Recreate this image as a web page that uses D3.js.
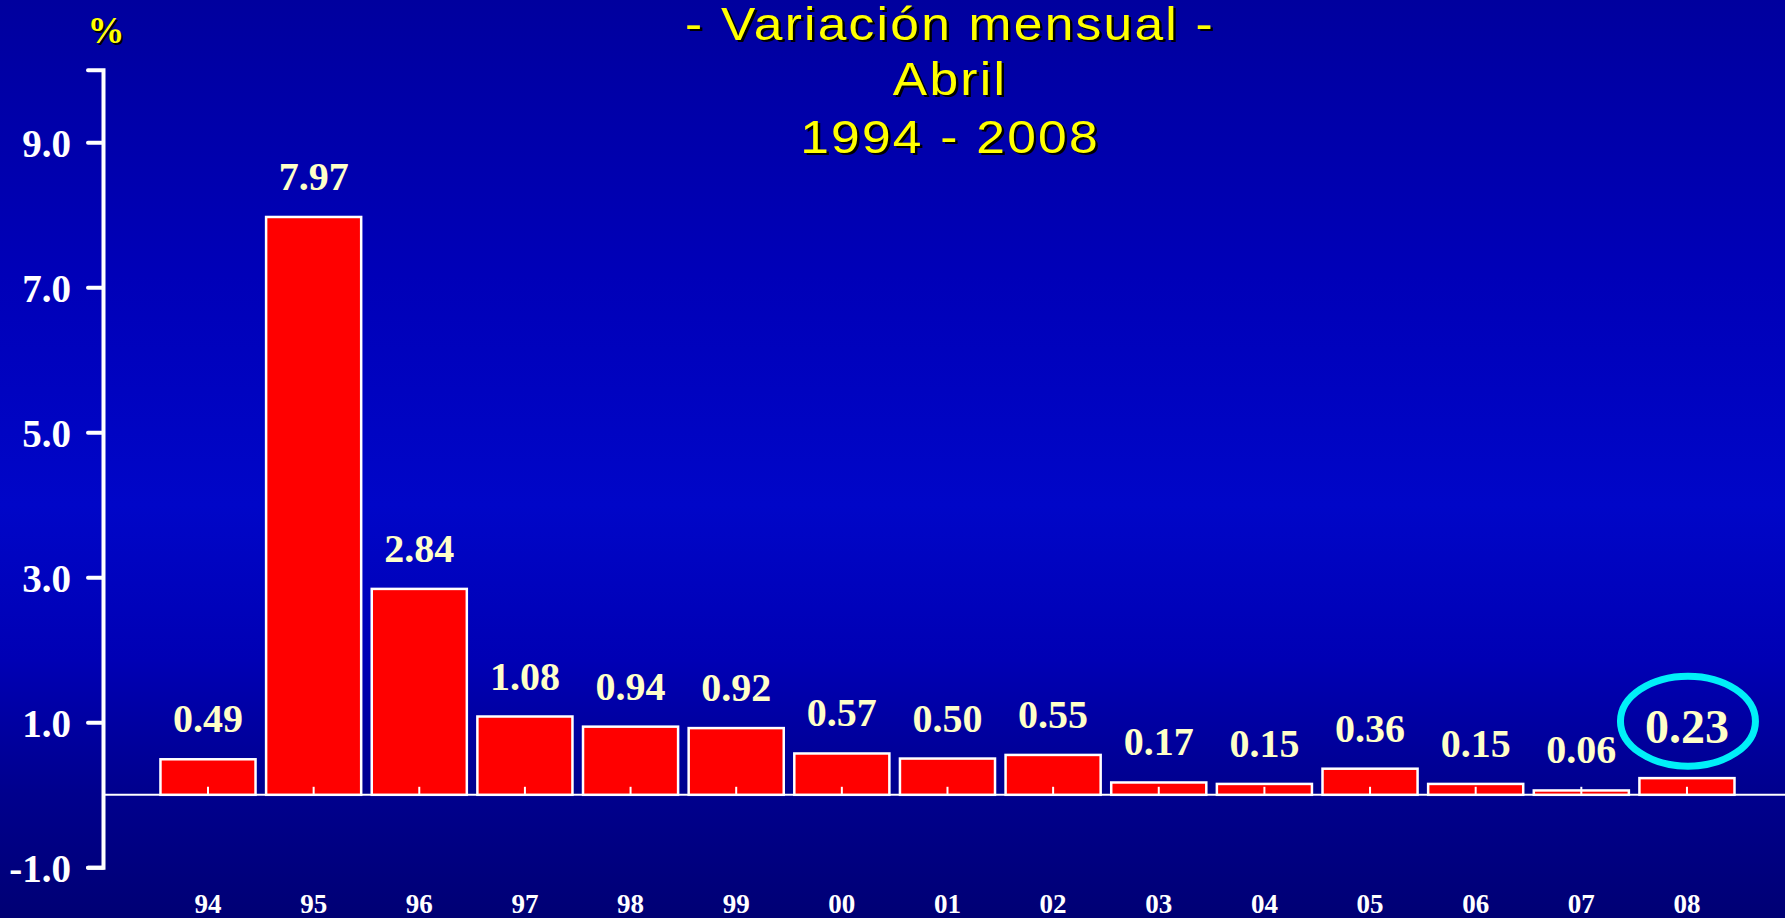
<!DOCTYPE html>
<html>
<head>
<meta charset="utf-8">
<script src="https://cdn.jsdelivr.net/npm/d3@7/dist/d3.min.js"></script>
<style>
  html, body { margin: 0; padding: 0; background: #0000a0; overflow: hidden; }
  svg { display: block; }
</style>
</head>
<body>
<svg id="chart" width="1785" height="918"></svg>
<script>
// Monthly variation for April, 1994-2008
const years = ["94", "95", "96", "97", "98", "99", "00", "01", "02", "03", "04", "05", "06", "07", "08"];
const values = [0.49, 7.97, 2.84, 1.08, 0.94, 0.92, 0.57, 0.50, 0.55, 0.17, 0.15, 0.36, 0.15, 0.06, 0.23];
const labels = ["0.49", "7.97", "2.84", "1.08", "0.94", "0.92", "0.57", "0.50", "0.55", "0.17", "0.15", "0.36", "0.15", "0.06", "0.23"];
const yTicks = [-1, 1, 3, 5, 7, 9];
const titleLines = ["- Variación mensual -", "Abril", "1994 - 2008"];
const highlightYear = "08";

const W = 1785, H = 918;
const svg = d3.select("#chart");

// background gradient
const defs = svg.append("defs");
const grad = defs.append("linearGradient")
  .attr("id", "bg").attr("x1", 0).attr("y1", 0).attr("x2", 0).attr("y2", 1);
[[0, "#00009e"], [0.3, "#0000b8"], [0.55, "#0006c8"], [0.72, "#0000b4"], [0.86, "#00008e"], [1, "#000074"]]
  .forEach(([o, c]) => grad.append("stop").attr("offset", o).attr("stop-color", c));
svg.append("rect").attr("width", W).attr("height", H).attr("fill", "url(#bg)");

// scales
const step = 105.64;
const x = d3.scaleBand()
  .domain(years)
  .range([208 - step / 2, 208 + step * (years.length - 0.5)])
  .paddingInner(0.1)
  .paddingOuter(0.05);
const y = d3.scaleLinear().domain([-1, 10]).range([867.3, 69.8]);

const serif = "'Liberation Serif', 'Times New Roman', serif";
const sans = "'Liberation Sans', Arial, sans-serif";

// title with drop shadow, slightly widened glyphs
const titleCx = 950;
const title = svg.append("g")
  .attr("transform", `translate(${titleCx},0) scale(1.12,1)`)
  .attr("font-family", sans).attr("font-size", 46)
  .attr("letter-spacing", "2px").attr("text-anchor", "middle");
const titleY = [40, 95, 153];
titleLines.forEach((t, i) => {
  title.append("text").attr("x", 2.2).attr("y", titleY[i] + 2.5).attr("fill", "#000000").text(t);
  title.append("text").attr("x", 0).attr("y", titleY[i]).attr("fill", "#ffff00").text(t);
});

// unit label
svg.append("text").attr("x", 108).attr("y", 45).attr("text-anchor", "middle")
  .attr("font-family", serif).attr("font-weight", "bold").attr("font-size", 37)
  .attr("fill", "#000000").text("%");
svg.append("text").attr("x", 106).attr("y", 43).attr("text-anchor", "middle")
  .attr("font-family", serif).attr("font-weight", "bold").attr("font-size", 37)
  .attr("fill", "#ffff00").text("%");

// zero line
svg.append("line")
  .attr("x1", 103).attr("x2", W)
  .attr("y1", y(0)).attr("y2", y(0))
  .attr("stroke", "#ffffff").attr("stroke-width", 2);

// bars
const data = years.map((yr, i) => ({ yr, v: values[i], label: labels[i] }));
svg.append("g").selectAll("rect").data(data).join("rect")
  .attr("x", d => x(d.yr))
  .attr("width", x.bandwidth())
  .attr("y", d => y(Math.max(0, d.v)))
  .attr("height", d => Math.abs(y(d.v) - y(0)))
  .attr("fill", "#ff0000")
  .attr("stroke", "#ffffff")
  .attr("stroke-width", 2.5);

// x axis: inner ticks on the zero line, year labels at the bottom
const xAxis = svg.append("g")
  .attr("transform", `translate(0,${y(0)})`)
  .call(d3.axisBottom(x).tickSizeInner(-8).tickSizeOuter(0).tickPadding(99));
xAxis.select(".domain").remove();
xAxis.selectAll(".tick line").attr("stroke", "#ffffff").attr("stroke-width", 2);
xAxis.selectAll(".tick text")
  .attr("fill", "#ffffff").attr("font-family", serif).attr("font-weight", "bold").attr("font-size", 27);

// y axis
const yAxis = svg.append("g")
  .attr("transform", "translate(103,0)")
  .call(d3.axisLeft(y).tickValues(yTicks).tickFormat(d => d.toFixed(1)).tickSize(15).tickPadding(17));
yAxis.select(".domain").attr("stroke", "#ffffff").attr("stroke-width", 4).attr("stroke-linecap", "round");
yAxis.selectAll(".tick line").attr("stroke", "#ffffff").attr("stroke-width", 4).attr("stroke-linecap", "round");
yAxis.selectAll(".tick text")
  .attr("fill", "#ffffff").attr("font-family", serif).attr("font-weight", "bold").attr("font-size", 39)
  .attr("dy", "0.37em");

// value labels
svg.append("g").selectAll("text").data(data).join("text")
  .attr("x", d => x(d.yr) + x.bandwidth() / 2)
  .attr("y", d => y(Math.max(0, d.v)) - (d.yr === highlightYear ? 35 : 27))
  .attr("text-anchor", "middle")
  .attr("font-family", serif).attr("font-weight", "bold")
  .attr("font-size", d => d.yr === highlightYear ? 48 : 40)
  .attr("fill", "#ffffc8")
  .text(d => d.label);

// highlight ring around the latest value
const hl = data.find(d => d.yr === highlightYear);
svg.append("ellipse")
  .attr("cx", x(hl.yr) + x.bandwidth() / 2 + 1)
  .attr("cy", y(hl.v) - 35 - 22)
  .attr("rx", 67.5).attr("ry", 45)
  .attr("fill", "none")
  .attr("stroke", "#00f0f8")
  .attr("stroke-width", 7);
</script>
</body>
</html>
